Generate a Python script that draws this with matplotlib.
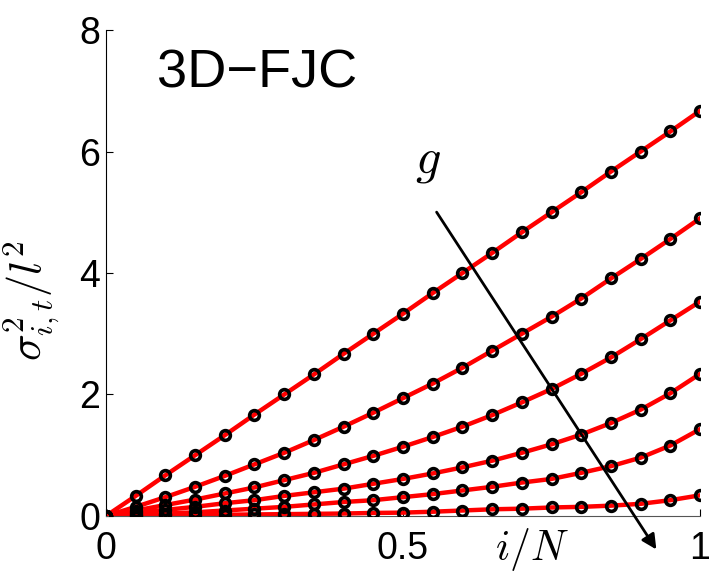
import matplotlib
matplotlib.use("Agg")
import matplotlib.pyplot as plt
import numpy as np

plt.rcParams['font.family'] = ['Liberation Sans', 'DejaVu Sans']
plt.rcParams['mathtext.fontset'] = 'cm'

# i/N sample points
x_frac = [0.0, 0.05, 0.1, 0.15, 0.2, 0.25, 0.3, 0.35, 0.4, 0.45, 0.5,
          0.55, 0.6, 0.65, 0.7, 0.75, 0.8, 0.85, 0.9, 0.95, 1.0]

# sigma^2_{i,t}/l^2, one list per g (increasing g from top to bottom)
sig_g1 = [0.0, 0.33, 0.67, 1.0, 1.33, 1.67, 2.0, 2.33, 2.67, 3.0, 3.33,
          3.67, 4.0, 4.33, 4.67, 5.0, 5.33, 5.67, 6.0, 6.33, 6.67]
sig_g2 = [0.0, 0.15, 0.31, 0.48, 0.66, 0.85, 1.04, 1.25, 1.47, 1.70, 1.94,
          2.18, 2.44, 2.72, 3.0, 3.28, 3.58, 3.91, 4.23, 4.56, 4.9]
sig_g3 = [0.0, 0.09, 0.18, 0.27, 0.37, 0.47, 0.59, 0.71, 0.85, 0.99, 1.14,
          1.30, 1.47, 1.66, 1.87, 2.09, 2.34, 2.61, 2.91, 3.22, 3.53]
sig_g4 = [0.0, 0.05, 0.10, 0.15, 0.21, 0.26, 0.33, 0.39, 0.45, 0.53, 0.61,
          0.70, 0.80, 0.91, 1.04, 1.18, 1.34, 1.53, 1.75, 2.02, 2.34]
sig_g5 = [0.0, 0.02, 0.04, 0.06, 0.09, 0.12, 0.15, 0.19, 0.23, 0.26, 0.31,
          0.36, 0.42, 0.48, 0.55, 0.61, 0.71, 0.82, 0.96, 1.16, 1.43]
sig_g6 = [0.0, 0.005, 0.01, 0.015, 0.02, 0.025, 0.03, 0.035, 0.04, 0.05, 0.055,
          0.07, 0.09, 0.11, 0.12, 0.14, 0.15, 0.17, 0.2, 0.26, 0.34]

curves = [sig_g1, sig_g2, sig_g3, sig_g4, sig_g5, sig_g6]

fig = plt.figure(figsize=(7.18, 5.85), dpi=100)
ax = fig.add_axes([0.1476, 0.118, 0.975 - 0.1476, 0.9487 - 0.118])

for ys in curves:
    ax.plot(x_frac, ys, '-', color='red', lw=3.2, zorder=2)
for ys in curves:
    ax.plot(x_frac, ys, 'o', mfc='none', mec='black', mew=2.6, ms=7, zorder=3)

ax.set_xlim(0, 1)
ax.set_ylim(0, 8)
ax.set_xticks([0, 0.5, 1])
ax.set_xticklabels(['0', '0.5', '1'])
ax.set_yticks([0, 2, 4, 6, 8])
ax.spines['top'].set_visible(False)
ax.spines['right'].set_visible(False)
ax.spines['left'].set_linewidth(0.8)
ax.spines['bottom'].set_linewidth(0.8)
ax.spines['bottom'].set_color('#555555')
ax.tick_params(direction='in', length=5, width=0.8, labelsize=27)
ax.tick_params(axis='x', pad=11)
ax.tick_params(axis='y', pad=4)

ylab = ax.set_ylabel(r'$\sigma^2_{i,t}/l^2$', fontsize=32)
ylab.set_va('center')
ax.yaxis.set_label_coords(-0.125, 0.444)
ax.set_xlabel(r'$i/N$', fontsize=30)
ax.xaxis.set_label_coords(0.717, -0.02)

ax.text(0.086, 0.881, '3D\u2212FJC', transform=ax.transAxes, fontsize=39,
        ha='left', va='baseline')
ax.text(0.542, 5.83, r'$g$', fontsize=36, ha='center', va='center')
ax.annotate('', xy=(0.929, -0.59), xytext=(0.554, 5.04),
            arrowprops=dict(arrowstyle='-|>', color='black', lw=2,
                            mutation_scale=22),
            annotation_clip=False)

fig.savefig('out.png', dpi=100)
